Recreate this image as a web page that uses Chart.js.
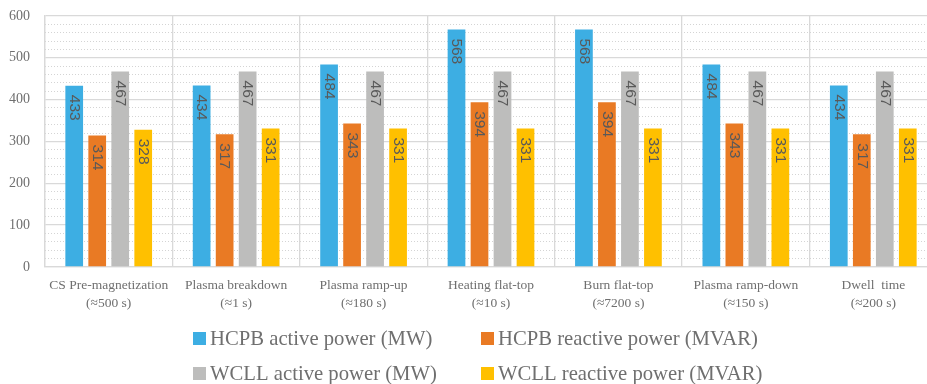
<!DOCTYPE html>
<html>
<head>
<meta charset="utf-8">
<title>Power demand per plasma phase</title>
<script src="https://cdn.jsdelivr.net/npm/chart.js@4/dist/chart.umd.min.js"></script>
<style>
  html, body { margin: 0; padding: 0; overflow: hidden; background: #ffffff; }
  #wrap { width: 950px; height: 384px; position: relative; }
</style>
</head>
<body>
<div id="wrap"><canvas id="chart"></canvas></div>
<script>
// Plasma phases with their approximate durations
const categories = [
  ['CS Pre-magnetization', '(\u2248500 s)'],
  ['Plasma breakdown', '(\u22481 s)'],
  ['Plasma ramp-up', '(\u2248180 s)'],
  ['Heating flat-top', '(\u224810 s)'],
  ['Burn flat-top', '(\u22487200 s)'],
  ['Plasma ramp-down', '(\u2248150 s)'],
  ['Dwell  time', '(\u2248200 s)']
];

// Series values
const hcpbActive   = [433, 434, 484, 568, 568, 484, 434];
const hcpbReactive = [314, 317, 343, 394, 394, 343, 317];
const wcllActive   = [467, 467, 467, 467, 467, 467, 467];
const wcllReactive = [328, 331, 331, 331, 331, 331, 331];

const seriesNames = [
  'HCPB active power (MW)',
  'HCPB reactive power (MVAR)',
  'WCLL active power (MW)',
  'WCLL reactive power (MVAR)'
];

// Value axis
const yMin = 0;
const yMax = 600;
const yMajorStep = 100;
const yMinorStep = 20;

const SERIF = "'Liberation Serif', 'DejaVu Serif', serif";
const SANS = "'Liberation Sans', Arial, sans-serif";
const TEXT_GREY = '#6f6f6f';
const GRID_GREY = '#d9d9d9';

// Rotated value labels inside the top of each bar
const barValueLabels = {
  id: 'barValueLabels',
  afterDatasetsDraw(chart, args, opts) {
    const ctx = chart.ctx;
    ctx.save();
    ctx.font = opts.fontSize + 'px ' + opts.fontFamily;
    ctx.fillStyle = opts.color;
    ctx.textAlign = 'left';
    ctx.textBaseline = 'middle';
    chart.data.datasets.forEach((ds, i) => {
      const meta = chart.getDatasetMeta(i);
      meta.data.forEach((bar, j) => {
        ctx.save();
        ctx.translate(bar.x, bar.y + opts.gap);
        ctx.rotate(Math.PI / 2);
        ctx.fillText(String(ds.data[j]), 0, 0);
        ctx.restore();
      });
    });
    ctx.restore();
  }
};

// Two-column legend below the axis
const gridLegend = {
  id: 'gridLegend',
  afterDraw(chart, args, opts) {
    const ctx = chart.ctx;
    ctx.save();
    ctx.font = opts.fontSize + 'px ' + opts.fontFamily;
    ctx.textBaseline = 'middle';
    ctx.textAlign = 'left';
    chart.data.datasets.forEach((ds, i) => {
      const col = i % 2;
      const row = Math.floor(i / 2);
      const x = opts.columns[col];
      const y = opts.rows[row];
      ctx.fillStyle = ds.backgroundColor;
      ctx.fillRect(x, y - opts.box / 2, opts.box, opts.box);
      ctx.fillStyle = opts.color;
      ctx.fillText(ds.label, x + opts.textOffset, y + 1);
    });
    ctx.restore();
  }
};

const colors = ['#3daee3', '#e97a24', '#bdbdbc', '#ffc000'];
const values = [hcpbActive, hcpbReactive, wcllActive, wcllReactive];

new Chart(document.getElementById('chart'), {
  type: 'bar',
  data: {
    labels: categories,
    datasets: values.map((v, i) => ({
      label: seriesNames[i],
      data: v,
      backgroundColor: colors[i],
      borderWidth: 0,
      barPercentage: 0.77,
      categoryPercentage: 0.722,
      yAxisID: 'y'
    }))
  },
  options: {
    responsive: true,
    maintainAspectRatio: false,
    animation: false,
    devicePixelRatio: 1,
    layout: { padding: { left: 9, top: 16, right: 13, bottom: 72 } },
    plugins: {
      legend: { display: false },
      tooltip: { enabled: false },
      barValueLabels: { fontFamily: SANS, fontSize: 15.5, color: '#595959', gap: 9 },
      gridLegend: {
        fontFamily: SERIF, fontSize: 20.7, color: TEXT_GREY,
        columns: [193, 481], rows: [338.5, 373.5], box: 13, textOffset: 17
      }
    },
    scales: {
      x: {
        offset: true,
        grid: { color: GRID_GREY, lineWidth: 1.3, drawTicks: false, offset: true },
        border: { color: GRID_GREY, width: 1.3 },
        ticks: {
          color: TEXT_GREY,
          font: { family: SERIF, size: 13.5, lineHeight: 1.3 },
          padding: 10,
          maxRotation: 0,
          autoSkip: false
        },
        // keep only one tick padding below the axis line
        afterFit(scale) { scale.height -= 10; }
      },
      y: {
        position: 'left',
        min: yMin,
        max: yMax,
        grid: { color: GRID_GREY, lineWidth: 1.3, drawTicks: false },
        border: { color: GRID_GREY, width: 1.3 },
        ticks: {
          stepSize: yMajorStep,
          color: TEXT_GREY,
          font: { family: SERIF, size: 14 },
          padding: 15
        },
        // keep only one tick padding beside the labels, and no extra room above
        afterFit(scale) {
          scale.width -= 15;
          scale.paddingTop = 0;
          scale.paddingBottom = 0;
        }
      },
      yMinor: {
        position: 'left',
        min: yMin,
        max: yMax,
        grid: {
          color: (c) => (c.tick && c.tick.value % yMajorStep === 0) ? 'rgba(0,0,0,0)' : '#d4d4d4',
          lineWidth: 1,
          drawTicks: false
        },
        border: { display: false, dash: [1, 2] },
        ticks: { display: false, stepSize: yMinorStep },
        afterFit(scale) { scale.width = 0; }
      }
    }
  },
  plugins: [barValueLabels, gridLegend]
});
</script>
</body>
</html>
